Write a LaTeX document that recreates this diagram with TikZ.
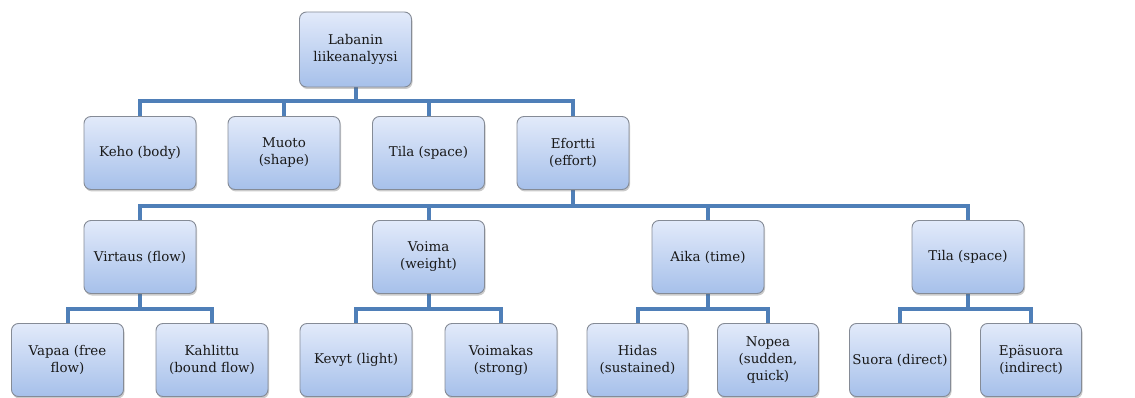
\documentclass[tikz,border=0pt]{standalone}
\usepackage{fontspec}
\setmainfont{DejaVu Serif}
\usetikzlibrary{shadows,backgrounds}
\definecolor{boxtop}{HTML}{E2EAFA}
\definecolor{boxbot}{HTML}{A6C0EA}
\definecolor{linkblue}{HTML}{4F7FB8}
\definecolor{boxedge}{HTML}{858B96}
\tikzset{
  box/.style={draw=boxedge, line width=0.9pt, rounded corners=7pt,
    top color=boxtop, bottom color=boxbot,
    minimum width=112pt, minimum height=73pt, inner sep=2pt,
    align=center, font=\fontsize{13.4}{17}\selectfont, text=black!90,
    drop shadow={shadow xshift=1pt, shadow yshift=-2pt, opacity=0.35, fill=black!60}},
  narrow/.style={minimum width=101pt},
  link/.style={draw=linkblue, line width=4pt, line cap=rect}
}
\begin{document}
\begin{tikzpicture}[x=1pt,y=-1pt]
\useasboundingbox (0,0) rectangle (1135,398);
% root
\node[box, minimum height=75pt] (root) at (355.5,49.5) {Labanin\\liikeanalyysi};
% level 1
\node[box] (keho)   at (140,153) {Keho (body)};
\node[box] (muoto)  at (284,153) {Muoto\\(shape)};
\node[box] (tila)   at (428.5,153) {Tila (space)};
\node[box] (effort) at (573,153) {Efortti\\(effort)};
% level 2
\node[box] (virtaus) at (140,257) {Virtaus (flow)};
\node[box] (voima)   at (428.5,257) {Voima\\(weight)};
\node[box] (aika)    at (708,257) {Aika (time)};
\node[box] (tilae)   at (968,257) {Tila (space)};
% level 3
\node[box] (vapaa)    at (67.5,360) {Vapaa (free\\flow)};
\node[box] (kahl)     at (212,360) {Kahlittu\\(bound flow)};
\node[box] (kevyt)    at (356,360) {Kevyt (light)};
\node[box] (voimakas) at (501,360) {Voimakas\\(strong)};
\node[box,narrow] (hidas) at (637.5,360) {Hidas\\(sustained)};
\node[box,narrow] (nopea) at (768,360) {Nopea\\(sudden,\\quick)};
\node[box,narrow] (suora) at (900,360) {Suora (direct)};
\node[box,narrow] (epa)   at (1031,360) {Epäsuora\\(indirect)};
\begin{scope}[on background layer]
\foreach \c in {keho,muoto,tila,effort}
  \draw[link] (root.south) -- (root.south |- 0,101) -| (\c.north);
\foreach \c in {virtaus,voima,aika,tilae}
  \draw[link] (effort.south) -- (effort.south |- 0,206) -| (\c.north);
\foreach \p/\a/\b in {virtaus/vapaa/kahl, voima/kevyt/voimakas, aika/hidas/nopea, tilae/suora/epa}{
  \draw[link] (\p.south) -- (\p.south |- 0,309) -| (\a.north);
  \draw[link] (\p.south) -- (\p.south |- 0,309) -| (\b.north);
}
\end{scope}
\end{tikzpicture}
\end{document}
